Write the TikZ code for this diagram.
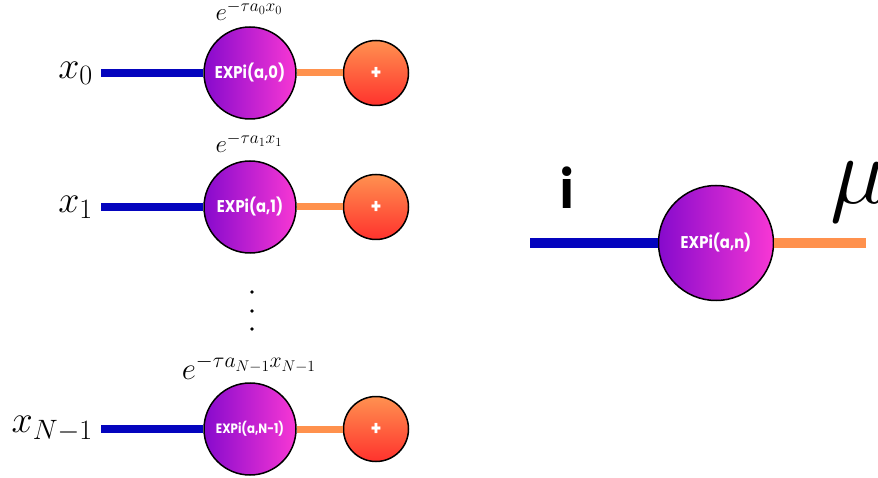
\documentclass[tikz,border=0pt]{standalone}
\usepackage{fix-cm}
\usepackage{fontspec}
\newfontfamily\poppins{Poppins}[FakeStretch=0.87]
\usetikzlibrary{positioning}
\DeclareMathSizes{38}{38}{28}{20}
\definecolor{wireblue}{RGB}{4,4,190}
\definecolor{wireorange}{RGB}{255,145,77}
\definecolor{expleft}{RGB}{135,10,205}
\definecolor{expright}{RGB}{248,55,212}
\definecolor{plustop}{RGB}{255,145,80}
\definecolor{plusbot}{RGB}{255,50,45}

\begin{document}
\begin{tikzpicture}[x=1pt,y=-1pt,
		expi/.style={circle,draw=black,line width=1.5pt,left color=expleft,right color=expright,minimum size=92pt,inner sep=0pt,text=white,font=\poppins\bfseries\fontsize{17}{20}\selectfont},
		plusnode/.style={circle,draw=black,line width=1.5pt,top color=plustop,bottom color=plusbot,minimum size=65pt,inner sep=0pt,text=white,font=\poppins\bfseries\fontsize{20}{24}\selectfont},
		inwire/.style={wireblue,line width=8pt},
		outwire/.style={wireorange,line width=7pt},
		bigmath/.style={font=\fontsize{38}{44}\selectfont,inner sep=0pt},
		expo/.style={font=\fontsize{25}{30}\selectfont,inner sep=0pt,anchor=base}]
	\useasboundingbox (0,0) rectangle (878,478);

	% first row
	\node[expi] (e0) at (250,73) {EXPi(a,0)};
	\node[plusnode] (p0) at (376,73) {+};
	\node[bigmath,anchor=east] (x0) at (93,73) {$x_0$};
	\node[expo] (t0) at (249,21) {$e^{-\tau a_0 x_0}$};
	\coordinate (in0) at (101,73);
	\draw[inwire] (in0) -- (e0);
	\draw[outwire] (e0) -- (p0);

	% second row
	\node[expi] (e1) at (250,207) {EXPi(a,1)};
	\node[plusnode] (p1) at (376,207) {+};
	\node[bigmath,anchor=east] (x1) at (93,207) {$x_1$};
	\node[expo] (t1) at (249,153) {$e^{-\tau a_1 x_1}$};
	\coordinate (in1) at (101,207);
	\draw[inwire] (in1) -- (e1);
	\draw[outwire] (e1) -- (p1);

	\foreach \y in {292,311,329}
		\fill (252,\y) circle (1.8);

	% last row
	\node[expi,font=\poppins\bfseries\fontsize{13.5}{16}\selectfont] (eN) at (250,429) {EXPi(a,N-1)};
	\node[plusnode] (pN) at (376,429) {+};
	\node[bigmath,anchor=east] (xN) at (93,429) {$x_{N-1}$};
	\node[expo,font=\fontsize{31}{36}\selectfont] (tN) at (249,379) {$e^{-\tau a_{N-1} x_{N-1}}$};
	\coordinate (inN) at (101,429);
	\draw[inwire] (inN) -- (eN);
	\draw[outwire] (eN) -- (pN);

	% single block
	\node[expi,minimum size=115pt] (en) at (716,243) {EXPi(a,n)};
	\coordinate (inn) at (530,243);
	\coordinate (outn) at (866,243);
	\draw[inwire,line width=10pt] (inn) -- (en);
	\draw[outwire,line width=10pt] (en) -- (outn);
	\node[font=\poppins\bfseries\fontsize{52}{60}\selectfont,anchor=base,inner sep=0pt] (idx) at (567,209) {i};
	\node[font=\fontsize{96}{110}\selectfont,anchor=base west,inner sep=0pt] (mu) at (830,204) {$\mu$};
\end{tikzpicture}
\end{document}
